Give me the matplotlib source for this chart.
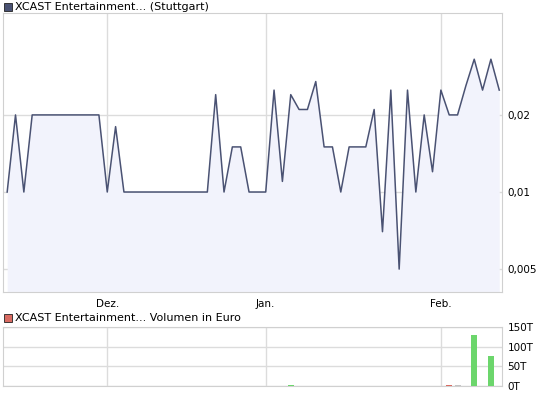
import matplotlib
matplotlib.use("Agg")
import matplotlib.pyplot as plt
from matplotlib.patches import Rectangle
from matplotlib.ticker import FixedLocator, NullLocator

# ---- data ----
price = [0.01, 0.02, 0.01, 0.02, 0.02, 0.02, 0.02, 0.02, 0.02, 0.02,
         0.02, 0.02, 0.01, 0.018, 0.01, 0.01, 0.01, 0.01, 0.01, 0.01,
         0.01, 0.01, 0.01, 0.01, 0.01, 0.024, 0.01, 0.015, 0.015, 0.01,
         0.01, 0.01, 0.025, 0.011, 0.024, 0.021, 0.021, 0.027, 0.015, 0.015,
         0.01, 0.015, 0.015, 0.015, 0.021, 0.007, 0.025, 0.005, 0.025, 0.01,
         0.02, 0.012, 0.025, 0.02, 0.02, 0.026, 0.033, 0.025, 0.033, 0.025]
vol_idx = [34, 53, 54, 56, 58]
vol_vals = [2.5, 3.0, 3.0, 128.0, 76.0]          # thousand euro
vol_kind = ['up', 'down', 'flat', 'up', 'up']
month_pos = [12, 31, 52]
month_labels = ['Dez.', 'Jan.', 'Feb.']
price_ticks = [0.005, 0.01, 0.02]
price_tick_labels = ['0,005', '0,01', '0,02']
vol_ticks = [0, 50, 100, 150]
vol_tick_labels = ['0T', '50T', '100T', '150T']
title_price = 'XCAST Entertainment... (Stuttgart)'
title_vol = 'XCAST Entertainment... Volumen in Euro'

# ---- style ----
W, H = 545, 395
line_c = '#4a5273'
fill_c = '#f2f3fc'
grid_c = '#dcdcdc'
spine_c = '#d0d0d0'
kind_colors = {'up': '#6cd66c', 'down': '#d96b62', 'flat': '#c4c4c4'}
fs = 7.5
fs_title = 8

fig = plt.figure(figsize=(W / 100, H / 100), dpi=100)

def frac(l, t, r, b):
    return [l / W, 1 - b / H, (r - l) / W, (b - t) / H]

x = list(range(len(price)))

ax = fig.add_axes(frac(3, 13, 502, 292))
ax.set_yscale('log')
ax.fill_between(x, price, 0.001, color=fill_c, lw=0, zorder=1)
ax.plot(x, price, color=line_c, lw=1.1, zorder=3)
ax.set_xlim(-0.5, len(price) - 1 + 0.33)
ax.set_ylim(0.00407, 0.050)
ax.yaxis.set_major_locator(FixedLocator(price_ticks))
ax.yaxis.set_minor_locator(NullLocator())
ax.set_yticklabels(price_tick_labels)
ax.yaxis.tick_right()
ax.set_xticks(month_pos)
ax.set_xticklabels(month_labels)
ax.tick_params(length=0, labelsize=fs, pad=4)
ax.tick_params(axis='x', pad=5)
ax.grid(True, color=grid_c, lw=1, zorder=0)
ax.set_axisbelow(True)
for s in ax.spines.values():
    s.set_color(spine_c)

fig.text(15 / W, 1 - 7 / H, title_price, fontsize=fs_title, va='center', ha='left')
fig.patches.append(Rectangle((4 / W, 1 - 11 / H), 8 / W, 8 / H, transform=fig.transFigure,
                             facecolor=line_c, edgecolor='#222222', lw=0.6))

av = fig.add_axes(frac(3, 326.7, 502, 386.3))
av.bar(vol_idx, vol_vals, width=0.72, color=[kind_colors[k] for k in vol_kind], zorder=3)
av.set_xlim(-0.5, len(price) - 1 + 0.33)
av.set_ylim(0, 150)
av.set_yticks(vol_ticks)
av.set_yticklabels(vol_tick_labels)
av.yaxis.tick_right()
av.set_xticks(month_pos)
av.set_xticklabels([])
av.tick_params(length=0, labelsize=fs, pad=4)
av.grid(True, color=grid_c, lw=1, zorder=0)
av.set_axisbelow(True)
for s in av.spines.values():
    s.set_color(spine_c)

fig.text(15 / W, 1 - 318 / H, title_vol, fontsize=fs_title, va='center', ha='left')
fig.patches.append(Rectangle((4 / W, 1 - 322 / H), 8 / W, 8 / H, transform=fig.transFigure,
                             facecolor='#d96b62', edgecolor='#222222', lw=0.6))

fig.savefig('out.png', dpi=100)
